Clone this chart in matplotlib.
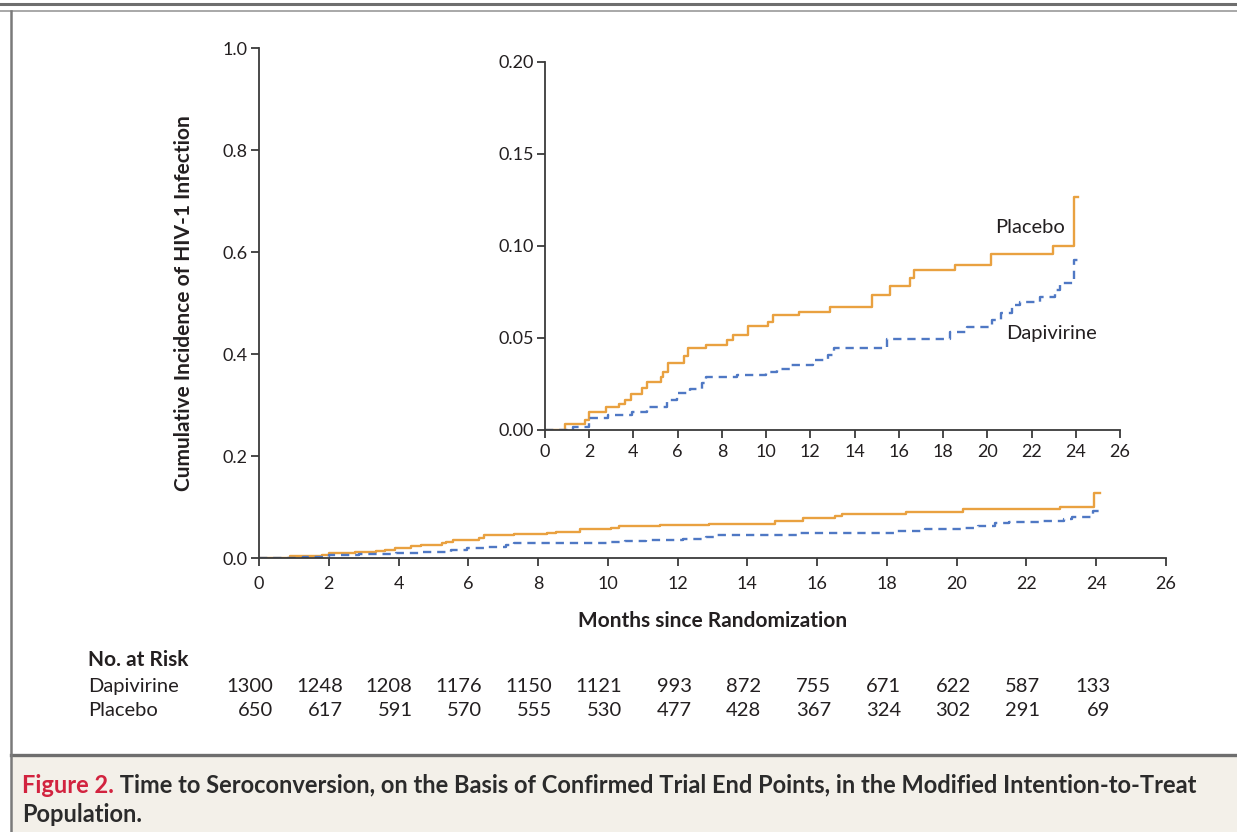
import matplotlib
matplotlib.use("Agg")
import matplotlib.pyplot as plt
import matplotlib.transforms as mtransforms
from matplotlib.patches import Rectangle
from matplotlib.lines import Line2D

plt.rcParams['font.family'] = ['Lato', 'DejaVu Sans']

# Kaplan-Meier style step curves (months, cumulative incidence)
placebo_t = [0, 0.9, 1.8, 2.0, 2.76, 3.36, 3.62, 3.89, 4.37, 4.63, 5.25, 5.35, 5.55,
             6.3, 6.45, 7.3, 8.25, 8.52, 9.2, 10.1, 10.33, 11.5, 12.9, 14.78, 15.58,
             16.5, 16.7, 18.55, 20.17, 22.97, 23.94, 24.1]
placebo_v = [0, 0.003, 0.0054, 0.0096, 0.0127, 0.0141, 0.0163, 0.0196, 0.0227, 0.0261,
             0.029, 0.0317, 0.0362, 0.040, 0.0444, 0.0462, 0.0489, 0.0516, 0.0567,
             0.0589, 0.0625, 0.0643, 0.067, 0.0734, 0.0783, 0.0825, 0.087, 0.0897,
             0.0957, 0.1002, 0.1268, 0.1268]

dapivirine_t = [0, 1.27, 2.0, 2.87, 3.92, 4.6, 5.5, 5.96, 6.56, 7.09, 7.3, 8.67, 10.0,
                10.48, 11.09, 12.14, 12.8, 13.05, 15.46, 18.3, 19.08, 20.2, 20.6, 21.1,
                21.5, 22.4, 23.08, 23.3, 23.9, 24.1]
dapivirine_v = [0, 0.0018, 0.0063, 0.0082, 0.01, 0.0127, 0.0163, 0.02, 0.0221, 0.0254,
                0.0286, 0.0299, 0.0317, 0.0332, 0.0353, 0.038, 0.0408, 0.0444, 0.0493,
                0.0534, 0.0562, 0.0598, 0.0634, 0.0679, 0.0697, 0.0725, 0.0761, 0.0797,
                0.0924, 0.0924]

# numbers at risk
risk_months = [0, 2, 4, 6, 8, 10, 12, 14, 16, 18, 20, 22, 24]
risk_dapivirine = [1300, 1248, 1208, 1176, 1150, 1121, 993, 872, 755, 671, 622, 587, 133]
risk_placebo = [650, 617, 591, 570, 555, 530, 477, 428, 367, 324, 302, 291, 69]

orange = '#E9A140'
blue = '#4F78C4'
ink = '#231F20'
spine = '#3A3A3A'


def style_axes(ax, fs):
    for s in ['top', 'right']:
        ax.spines[s].set_visible(False)
    for s in ['left', 'bottom']:
        ax.spines[s].set_color(spine)
        ax.spines[s].set_linewidth(1.3)
    ax.tick_params(direction='out', length=6, width=1.3, color=spine,
                   labelsize=fs, labelcolor=ink, pad=2)
    ax.tick_params(axis='x', pad=7)


fig = plt.figure(figsize=(12.37, 8.32), dpi=100)

# frame decorations
fig.add_artist(Rectangle((0.009, 0), 0.991, 0.0915, transform=fig.transFigure,
                         facecolor='#F3F0E9', edgecolor='none', zorder=0))
fig.add_artist(Line2D([0, 1], [1 - 4 / 832, 1 - 4 / 832], transform=fig.transFigure,
                      color='#6E6E6E', lw=2.2))
fig.add_artist(Line2D([0, 1], [1 - 11 / 832, 1 - 11 / 832], transform=fig.transFigure,
                      color='#9A9A9A', lw=1.2))
fig.add_artist(Line2D([0.009, 1], [0.0925, 0.0925], transform=fig.transFigure,
                      color='#6E6E6E', lw=2.4))
fig.add_artist(Line2D([0.009, 0.009], [0, 1 - 11 / 832], transform=fig.transFigure,
                      color='#7A7A7A', lw=1.8))

# main plot
ax = fig.add_axes([0.2094, 0.3293, 0.7332, 0.6130])
ax.step(placebo_t, placebo_v, where='post', color=orange, lw=1.7)
ax.step(dapivirine_t, dapivirine_v, where='post', color=blue, lw=1.7,
        linestyle=(0, (3.5, 2.5)))
ax.set_xlim(0, 26)
ax.set_ylim(0, 1.0)
ax.set_xticks(range(0, 27, 2))
ax.set_yticks([0, 0.2, 0.4, 0.6, 0.8, 1.0])
ax.set_yticklabels(['0.0', '0.2', '0.4', '0.6', '0.8', '1.0'])
style_axes(ax, 13)
ax.set_xlabel('Months since Randomization', fontsize=15, fontweight='bold', color=ink)
ax.xaxis.set_label_coords(0.5, -0.104)
ax.set_ylabel('Cumulative Incidence of HIV-1 Infection', fontsize=15,
              fontweight='bold', color=ink)
ax.yaxis.set_label_coords(-0.072, 0.5)

# inset
ins = fig.add_axes([0.4406, 0.4832, 0.4648, 0.4423])
ins.step(placebo_t, placebo_v, where='post', color=orange, lw=1.7)
ins.step(dapivirine_t, dapivirine_v, where='post', color=blue, lw=1.7,
         linestyle=(0, (3.5, 2.5)))
ins.set_xlim(0, 26)
ins.set_ylim(0, 0.20)
ins.set_xticks(range(0, 27, 2))
ins.set_yticks([0, 0.05, 0.10, 0.15, 0.20])
ins.set_yticklabels(['0.00', '0.05', '0.10', '0.15', '0.20'])
style_axes(ins, 13)
ins.tick_params(axis='x', pad=4)
ins.text(21.95, 0.110, 'Placebo', fontsize=14.5, color=ink, ha='center', va='center')
ins.text(22.9, 0.0527, 'Dapivirine', fontsize=14.5, color=ink, ha='center', va='center')

# number at risk table
base = mtransforms.blended_transform_factory(ax.transData, fig.transFigure)
shifted = mtransforms.offset_copy(base, fig=fig, x=14, y=0, units='dots')
fig.text(0.0711, 0.2067, 'No. at Risk', fontsize=15, fontweight='bold', color=ink,
         va='center')
fig.text(0.0711, 0.1743, 'Dapivirine', fontsize=14.5, color=ink, va='center')
fig.text(0.0711, 0.1466, 'Placebo', fontsize=14.5, color=ink, va='center')
for m, d, p in zip(risk_months, risk_dapivirine, risk_placebo):
    ax.text(m, 0.1743, str(d), transform=shifted, fontsize=14.5, color=ink,
            ha='right', va='center', clip_on=False)
    ax.text(m, 0.1466, str(p), transform=shifted, fontsize=14.5, color=ink,
            ha='right', va='center', clip_on=False)

# caption
t1 = fig.text(0.0178, 0.047, 'Figure 2.', fontsize=17, fontweight='bold',
              color='#D2233F', va='baseline')
ax.annotate(' Time to Seroconversion, on the Basis of Confirmed Trial End Points, '
            'in the Modified Intention-to-Treat',
            xy=(1, 0), xycoords=t1, xytext=(0, 0), textcoords='offset points',
            fontsize=17, fontweight='bold', color='#2B2B2B', va='bottom',
            annotation_clip=False)
fig.text(0.0178, 0.047 - 0.035, 'Population.', fontsize=17, fontweight='bold',
         color='#2B2B2B', va='baseline')

fig.savefig('out.png', dpi=100)
